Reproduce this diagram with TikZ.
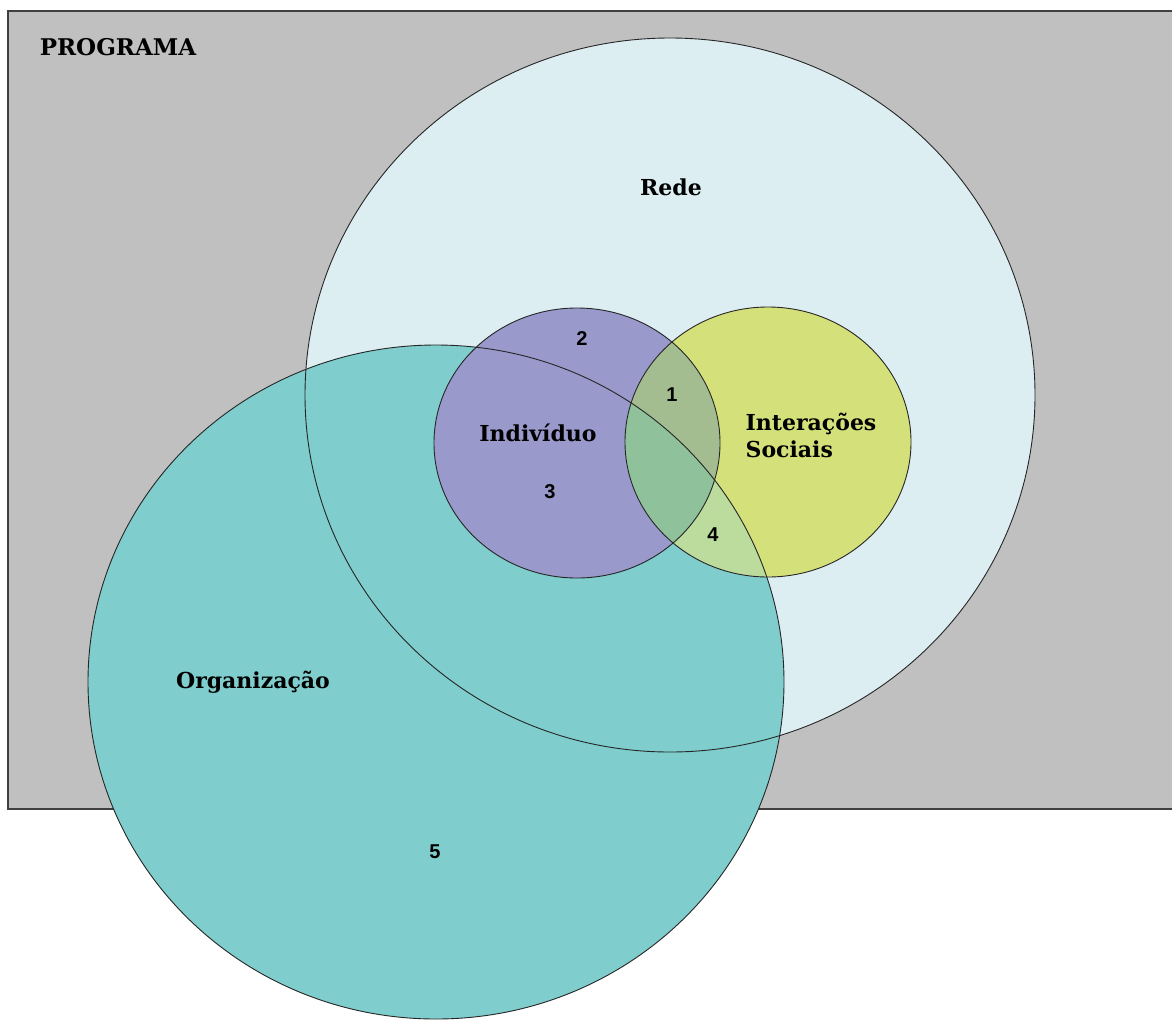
\documentclass[tikz,border=0pt]{standalone}
\usepackage{fontspec}
\setmainfont{DejaVu Serif}
\newfontfamily\numfont{Liberation Sans}
\usetikzlibrary{positioning}

\definecolor{cinzaprog}{RGB}{192,192,192}
\definecolor{azulrede}{RGB}{221,238,243}
\definecolor{verdeorg}{RGB}{127,205,205}
\definecolor{roxoind}{RGB}{153,153,204}
\definecolor{amarint}{RGB}{212,225,122}
\definecolor{zonaum}{RGB}{163,189,145}
\definecolor{zonatres}{RGB}{143,193,155}
\definecolor{zonaquatro}{RGB}{188,220,158}

\newcommand\formaRede{(670,395) ellipse [x radius=365, y radius=357]}
\newcommand\formaOrg{(436,682) ellipse [x radius=348, y radius=337]}
\newcommand\formaInd{(577,443) ellipse [x radius=143, y radius=135]}
\newcommand\formaInt{(768,442) ellipse [x radius=143, y radius=135]}

\begin{document}
\begin{tikzpicture}[x=1pt,y=-1pt,
	rotulo/.style={font=\bfseries\fontsize{22}{27}\selectfont},
	numero/.style={font=\numfont\bfseries\fontsize{20}{22}\selectfont},
	contorno/.style={draw=black!85,line width=0.9pt}]
\useasboundingbox (0,0) rectangle (1172,1021);

\draw [fill=cinzaprog,draw=black!75,line width=1.6pt] (8,11) rectangle (1190,809);

\fill [azulrede] \formaRede;
\fill [verdeorg] \formaOrg;
\fill [roxoind] \formaInd;
\fill [amarint] \formaInt;

\begin{scope}
\clip \formaInt;
\fill [zonaquatro] \formaOrg;
\clip \formaInd;
\fill [zonaum] \formaInd;
\fill [zonatres] \formaOrg;
\end{scope}

\draw [contorno] \formaRede;
\draw [contorno] \formaOrg;
\draw [contorno] \formaInd;
\draw [contorno] \formaInt;

\node [rotulo,font=\bfseries\fontsize{23}{27}\selectfont] (programa) at (118,47) {PROGRAMA};
\node [rotulo] (rede) at (671,187) {Rede};
\node [rotulo] (individuo) at (538,433) {Indivíduo};
\node [rotulo,align=left] (interacoes) at (811,435) {Interações\\Sociais};
\node [rotulo] (organizacao) at (253,682) {Organização};

\node [numero] (n1) at (672,395) {1};
\node [numero] (n2) at (582,339) {2};
\node [numero] (n3) at (550,492) {3};
\node [numero] (n4) at (713,535) {4};
\node [numero] (n5) at (435,852) {5};

\end{tikzpicture}
\end{document}
